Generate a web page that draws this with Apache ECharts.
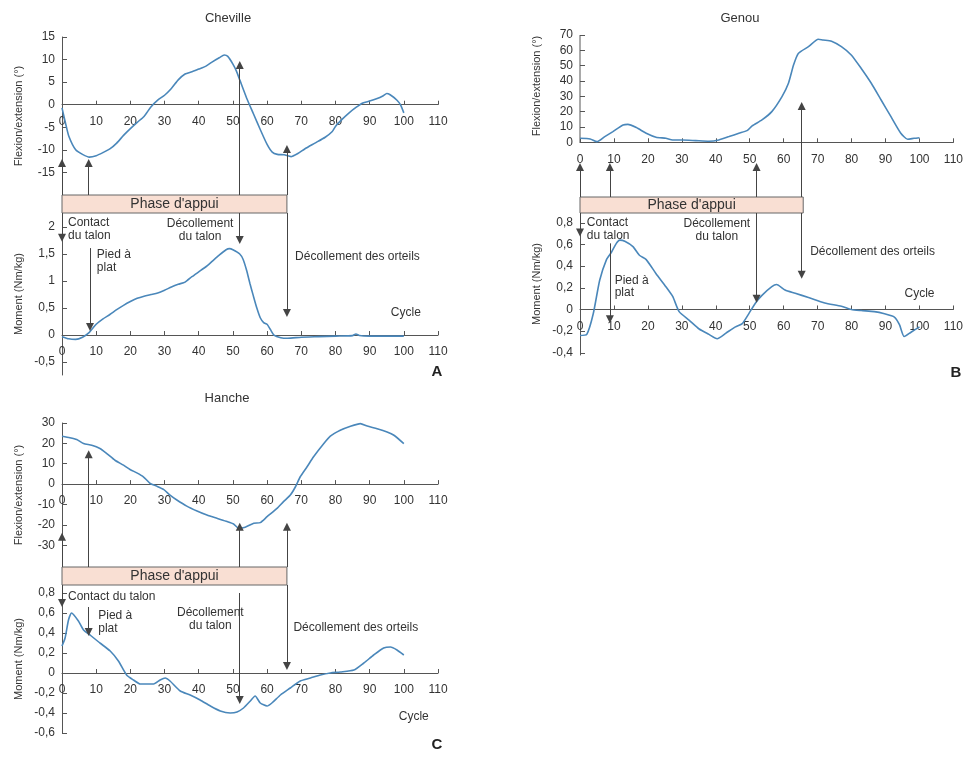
<!DOCTYPE html>
<html><head><meta charset="utf-8">
<script src="https://cdn.jsdelivr.net/npm/echarts@6/dist/echarts.min.js"></script>
<style>html,body{margin:0;padding:0;background:#fff}#c{width:966px;height:757px}</style>
</head><body><div id="c"></div>
<script>
// ---------- data ----------
const cycleTicks = [0,10,20,30,40,50,60,70,80,90,100,110];

// Cheville (ankle)
const ankleAngleX = [0,1,2,4,6,8,10,12,14,16,18,20,22,24,26,28,30,32,34,36,38,40,42,44,46,47.5,48.5,50,51,52,54,56,58,60,61.5,63,65,67,69,71,74,77,79,80,82,84,86,88,90,92,94,95,96,98,99,100];
const ankleAngleY = [-0.7,-4,-7,-10,-11,-11.6,-11.3,-10.6,-9.8,-8.5,-6.8,-5.3,-3.9,-2.6,-0.5,1,2.1,3.6,5.5,6.8,7.3,7.9,8.5,9.5,10.4,11,10.7,9,7.5,5.5,1.5,-2,-5.5,-8.8,-10.5,-11,-11.1,-11.5,-10.8,-9.8,-8.5,-7.2,-6,-4.8,-3.2,-1.8,-0.6,0.4,0.8,1.3,2,2.5,2.2,1,0,-1.8];
const ankleMomentX = [0,2,4,6,8,10,12,14,16,18,20,22,24,26,28,30,32,34,36,38,40,42,44,46,48,49,50,52,53,54,55,56,57,58,59,60,61,62,64,66,70,75,80,85,86,87,90,95,100];
const ankleMomentY = [-0.03,-0.07,-0.08,-0.04,0.05,0.2,0.3,0.38,0.47,0.55,0.62,0.68,0.72,0.75,0.78,0.83,0.89,0.94,0.98,1.08,1.17,1.26,1.37,1.48,1.58,1.6,1.58,1.5,1.4,1.2,0.95,0.72,0.5,0.32,0.23,0.2,0.1,0.0,-0.05,-0.06,-0.04,-0.03,-0.02,-0.01,0.02,-0.01,-0.02,-0.02,-0.02];
const ankleAngleTicks = [-15,-10,-5,0,5,10,15];
const ankleMomentTicks = [-0.5,0,0.5,1,1.5,2];

// Genou (knee)
const kneeAngleX = [0,3,5,7.3,9.7,12.7,14.1,16.6,19.5,22.4,25.3,27.3,30.2,34.1,38,40.9,43.9,46.8,49.2,50.7,53.6,56.5,59.5,61.4,62.9,64.3,67.3,70.2,71.6,74.1,77,79.9,82.8,85.8,88.7,91.6,94.5,96.5,98.4,100];
const kneeAngleY = [2.6,2.2,0.4,3.7,7,11.3,11.7,9.6,5.9,3.3,2.6,1.5,1.5,1.1,0.7,1.5,3.7,5.9,7.6,10.7,14.6,20,29.8,38.5,50.4,58,62.4,67.2,66.7,66,62.4,57,48.3,38.5,27.6,16.7,5.9,2,2.6,3];
const kneeMomentX = [0,2,3.9,5.8,7.8,9.3,10.7,11.7,13.2,15.6,17.5,19.5,22.4,25.3,27.3,29.2,32.2,35.1,38,40.4,42.9,45.8,47.8,49.7,51.7,53.6,56.5,57.9,60.4,63.4,67.3,72.1,77,79.9,82.8,86.7,89.7,92.6,94.1,95.5,97.5,100];
const kneeMomentY = [-0.24,-0.23,-0.04,0.27,0.46,0.53,0.61,0.64,0.63,0.58,0.5,0.46,0.33,0.21,0.12,-0.02,-0.1,-0.18,-0.23,-0.27,-0.22,-0.16,-0.13,-0.04,0.06,0.13,0.21,0.23,0.18,0.15,0.11,0.06,0.03,0,-0.01,-0.02,-0.04,-0.07,-0.14,-0.25,-0.21,-0.16];
const kneeAngleTicks = [0,10,20,30,40,50,60,70];
const kneeMomentTicks = [-0.4,-0.2,0,0.2,0.4,0.6,0.8];

// Hanche (hip)
const hipAngleX = [0,2.3,4.3,6.3,8.7,11.1,13.1,15.5,18,19.9,21.9,23.8,25.8,27.7,29.7,31.6,33.6,36.5,39.5,42.4,45.3,48.3,50.2,51.7,53.6,56.1,58,60,62.9,64.8,66.8,68.3,69.7,71.7,73.6,76.6,78.5,81.4,84.4,87.3,89.3,92.2,95.1,97.1,100];
const hipAngleY = [23.5,22.8,21.9,19.9,19.1,17.5,15,11.7,9.3,7.2,5.5,3.6,0.3,-1,-2.6,-5.4,-7.8,-10.8,-13.2,-15.2,-16.8,-18.4,-19.6,-21.7,-21.2,-19.2,-18.9,-16,-11.9,-8.6,-5.4,-1.3,3.6,8.5,13.4,19.9,23.5,26.4,28.4,29.7,28.5,27.2,25.6,24,19.9];
const hipMomentX = [0,0.9,1.9,2.8,4.8,6.3,8.2,11.1,14.1,16.5,18.9,20.9,22.9,26.8,28.7,30.2,31.6,34.6,37.5,40.4,43.4,46.3,49.2,51.2,53.1,55.1,56.5,58,60,61.4,63.9,66.8,69.7,72.7,75.6,78.5,81.4,85.4,88.3,91.2,94.1,96.1,98,100];
const hipMomentY = [0.27,0.35,0.53,0.6,0.52,0.43,0.38,0.3,0.22,0.12,-0.02,-0.07,-0.11,-0.11,-0.07,-0.05,-0.08,-0.18,-0.22,-0.27,-0.33,-0.38,-0.4,-0.39,-0.35,-0.28,-0.23,-0.3,-0.33,-0.3,-0.22,-0.15,-0.08,-0.05,-0.02,0,0.01,0.03,0.1,0.18,0.25,0.26,0.23,0.18];
const hipAngleTicks = [-30,-20,-10,0,10,20,30];
const hipMomentTicks = [-0.6,-0.4,-0.2,0,0.2,0.4,0.6,0.8];

// Gait events (% of cycle)
const phaseLabel = "Phase d'appui";
const eventNamesA = ['Contact\ndu talon','Pied à\nplat','Décollement\ndu talon','Décollement des orteils'];
const eventNamesC = ['Contact du talon','Pied à\nplat','Décollement\ndu talon','Décollement des orteils'];

// ---------- styling / layout ----------
const FONT = '"Liberation Sans", Arial, Helvetica, sans-serif';
const AXIS = '#555', TXT = '#333', CURVE = '#4a87ba', ARROW = '#444';
const grids = [], xAxis = [], yAxis = [], series = [];
function fmt(v){ return String(Math.round(v*100)/100).replace('.', ','); }
function pairs(xs, ys){ return xs.map((x,i)=>[x, ys[i]]); }

function addGrid(left, top, width, height){
  grids.push({left, top, width, height, containLabel:false});
  return grids.length - 1;
}
// the x axis is placed at y = 0 of the grid's value range
function addX(g, show, height, min, max){
  const off = show ? -height * (0 - min) / (max - min) : 0;
  xAxis.push({type:'value', gridIndex:g, min:0, max:110, interval:10, show:show, position:'bottom', offset:off,
    axisLine:{onZero:false, lineStyle:{color:AXIS, width:1}},
    axisTick:{inside:true, length:4, lineStyle:{color:AXIS}},
    axisLabel:{color:TXT, fontSize:12, fontFamily:FONT, margin:11, customValues:cycleTicks},
    splitLine:{show:false}});
}
function addY(g, min, max, ticks, name, showLine, namePad){
  yAxis.push({type:'value', gridIndex:g, min, max,
    axisLine:{show:showLine !== false, onZero:false, lineStyle:{color:AXIS, width:1}},
    axisTick:{show:!!ticks, inside:true, length:5, customValues:ticks || [], lineStyle:{color:AXIS}},
    axisLabel:{show:!!ticks, customValues:ticks || [], formatter:fmt, color:TXT, fontSize:12, fontFamily:FONT, margin:7},
    splitLine:{show:false},
    name:name || '', nameLocation:'middle', nameGap:38,
    nameTextStyle:{color:TXT, fontSize:11, fontFamily:FONT, padding: namePad || 0}});
}
function arrowLine(list){
  return {silent:true, symbol:['none','triangle'], symbolSize:8, animation:false,
    label:{show:false}, lineStyle:{color:ARROW, width:1, type:'solid'},
    emphasis:{disabled:true},
    data:list.map(a=>[{coord:[a[0],a[1]]},{coord:[a[0],a[2]]}])};
}
function textPoints(list){
  return {silent:true, symbol:'circle', symbolSize:1, itemStyle:{color:'rgba(0,0,0,0)'}, animation:false,
    data:list.map(t=>({name:t[0], coord:[t[1],t[2]],
      label:{show:true, position:'inside', formatter:'{b}', align:t[3], verticalAlign:'middle',
        color:TXT, fontSize:12, lineHeight:12.5, fontFamily:FONT}}))};
}

function panel(p){
  const gT = addGrid(p.left, p.top.top, 376, p.top.height);
  addX(gT, true, p.top.height, p.top.min, p.top.max);
  addY(gT, p.top.min, p.top.max, p.top.ticks, 'Flexion/extension (°)', !p.top.hideLine, p.top.namePad);
  series.push({type:'line', xAxisIndex:gT, yAxisIndex:gT, data:pairs(p.angleX, p.angleY),
    showSymbol:false, smooth:0.2, clip:false, lineStyle:{color:CURVE, width:1.6}, itemStyle:{color:CURVE},
    markLine:arrowLine(p.top.arrows.map(a=>[a[0], p.top.min, a[1]]))});
  if (p.top.hideLine) {
    series.push({type:'line', xAxisIndex:gT, yAxisIndex:gT, data:[[0,0],[0,p.top.max]], showSymbol:false,
      silent:true, lineStyle:{color:AXIS, width:1}, z:1});
  }
  const gB = addGrid(p.left, p.box.top, 376, p.box.height);
  addX(gB, false, p.box.height, 0, 1);
  addY(gB, 0, 1, null, '', false);
  series.push({type:'line', xAxisIndex:gB, yAxisIndex:gB, data:[], clip:false, silent:true,
    markArea:{silent:true, animation:false,
      itemStyle:{color:'#f9dfd3', borderColor:'#666', borderWidth:1},
      label:{show:true, position:'inside', color:TXT, fontSize:14, fontFamily:FONT},
      data:[[{name:phaseLabel, coord:[p.box.start,0]},{coord:[p.box.end,1]}]]}});
  const gM = addGrid(p.left, p.bot.top, 376, p.bot.height);
  addX(gM, true, p.bot.height, p.bot.min, p.bot.max);
  addY(gM, p.bot.min, p.bot.max, p.bot.ticks, 'Moment (Nm/kg)', true);
  series.push({type:'line', xAxisIndex:gM, yAxisIndex:gM, data:pairs(p.momentX, p.momentY),
    showSymbol:false, smooth:0.2, clip:false, lineStyle:{color:CURVE, width:1.6}, itemStyle:{color:CURVE},
    markLine:arrowLine(p.bot.arrows), markPoint:textPoints(p.bot.labels)});
}

// Panel A – Cheville
panel({left:62, angleX:ankleAngleX, angleY:ankleAngleY, momentX:ankleMomentX, momentY:ankleMomentY,
  top:{top:37, height:158, min:-20, max:15, ticks:ankleAngleTicks,
       arrows:[[0,-12.9],[7.8,-12.9],[52,8.8],[65.8,-9.8]]},
  box:{top:195, height:18, start:-0.6, end:65.8},
  bot:{top:213, height:162, min:-0.74, max:2.26, ticks:ankleMomentTicks,
       arrows:[[0,2.26,1.8],[8.2,1.61,0.15],[52,2.26,1.76],[65.8,2.26,0.41]],
       labels:[[eventNamesA[0],1.75,1.96,'left'],[eventNamesA[1],10.2,1.37,'left'],
               [eventNamesA[2],40.4,1.94,'center'],[eventNamesA[3],68.2,1.46,'left'],['Cycle',100.6,0.41,'center']]}});

// Panel B – Genou
panel({left:580, angleX:kneeAngleX, angleY:kneeAngleY, momentX:kneeMomentX, momentY:kneeMomentY,
  top:{top:35, height:162, min:-35.7, max:70, ticks:kneeAngleTicks, hideLine:true, namePad:[0,0,0,60],
       arrows:[[0,-16.1],[8.8,-16.1],[52,-16.1],[65.3,23.7]]},
  box:{top:197, height:16, start:-0.6, end:65.3},
  bot:{top:213, height:142, min:-0.42, max:0.89, ticks:kneeMomentTicks,
       arrows:[[0,0.89,0.71],[8.8,0.61,-0.09],[52,0.89,0.1],[65.3,0.89,0.32]],
       labels:[[eventNamesA[0],2.0,0.74,'left'],[eventNamesA[1],10.2,0.21,'left'],
               [eventNamesA[2],40.3,0.73,'center'],[eventNamesA[3],67.8,0.53,'left'],['Cycle',100,0.15,'center']]}});

// Panel C – Hanche
panel({left:62, angleX:hipAngleX, angleY:hipAngleY, momentX:hipMomentX, momentY:hipMomentY,
  top:{top:423, height:144, min:-40.7, max:30, ticks:hipAngleTicks,
       arrows:[[0,-25.8],[7.8,14.7],[52,-20.9],[65.8,-20.9]]},
  box:{top:567, height:18, start:-0.6, end:65.8},
  bot:{top:585, height:148, min:-0.6, max:0.88, ticks:hipMomentTicks,
       arrows:[[0,0.88,0.7],[7.8,0.66,0.41],[52,0.8,-0.27],[65.8,0.88,0.07]],
       labels:[[eventNamesC[0],1.76,0.76,'left'],[eventNamesC[1],10.6,0.51,'left'],
               [eventNamesC[2],43.4,0.54,'center'],[eventNamesC[3],67.7,0.45,'left'],['Cycle',102.9,-0.44,'center']]}});

function txt(text, x, y, size, bold){
  return {type:'text', x, y, silent:true,
    style:{text, fill: bold ? '#222' : TXT, font:(bold?'bold ':'') + size + 'px ' + FONT,
      textAlign:'center', textVerticalAlign:'middle', align:'center', verticalAlign:'middle'}};
}

const chart = echarts.init(document.getElementById('c'), null, {renderer:'canvas'});
chart.setOption({
  animation:false,
  backgroundColor:'#fff',
  textStyle:{fontFamily:FONT},
  grid:grids, xAxis, yAxis, series,
  graphic:[
    txt('Cheville', 228, 18, 13), txt('Genou', 740, 18, 13), txt('Hanche', 227, 398, 13),
    txt('A', 437, 372, 15, true), txt('B', 956, 373, 15, true), txt('C', 437, 745, 15, true)
  ]
});
</script>
</body></html>
